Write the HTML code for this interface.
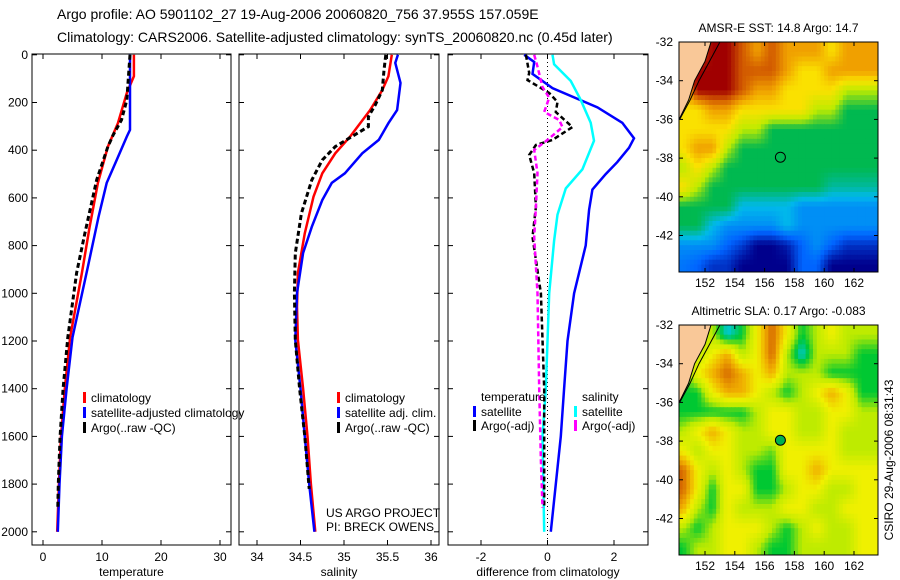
<!DOCTYPE html>
<html><head><meta charset="utf-8">
<style>
body{margin:0;background:#fff;}
svg{display:block;font-family:"Liberation Sans",sans-serif;}
text{font-size:12px;fill:#000;}
</style></head>
<body>
<svg id="fig" width="900" height="580" viewBox="0 0 900 580" xmlns="http://www.w3.org/2000/svg">
<rect width="900" height="580" fill="#fff"/>
<text x="57" y="19" style="font-size:14px">Argo profile: AO 5901102_27 19-Aug-2006 20060820_756 37.955S 157.059E</text>
<text x="57" y="42" style="font-size:14px">Climatology: CARS2006. Satellite-adjusted climatology: synTS_20060820.nc (0.45d later)</text>
</svg>
<script>
// ---- Temperature panel data ----
const tempClimDepth=[0,90,160,287,385,537,722,915,1185,1400,1600,1800,2000];
const tempClim=[15.4,15.4,14.2,12.7,11.0,9.3,7.9,6.6,4.6,3.7,3.05,2.7,2.4];
const tempSatDepth=[0,315,343,440,537,680,890,1185,1400,1600,1800,2000];
const tempSat=[14.75,14.75,14.2,12.5,10.8,9.4,7.6,5.0,4.0,3.2,2.8,2.5];
const tempArgoDepth=[0,190,273,336,385,524,748,915,1185,1400,1600,1800,1900];
const tempArgo=[14.75,14.2,13.3,11.9,11.0,9.1,7.1,5.7,4.2,3.4,2.9,2.6,2.5];
// ---- Salinity panel data ----
const salClimDepth=[0,90,148,232,343,413,497,595,748,915,1057,1196,1400,1600,1800,2000];
const salClim=[35.55,35.51,35.44,35.30,35.07,34.90,34.75,34.65,34.55,34.47,34.46,34.47,34.53,34.58,34.62,34.67];
const salSatDepth=[0,34,118,232,287,357,413,497,537,609,721,831,999,1196,1400,1600,1800,2000];
const salSat=[35.62,35.59,35.65,35.61,35.51,35.40,35.21,35.01,34.86,34.75,34.63,34.53,34.46,34.44,34.50,34.55,34.60,34.66];
const salArgoDepth=[0,64,148,210,259,301,343,385,441,525,665,832,999,1196,1400,1600,1820];
const salArgo=[35.48,35.46,35.44,35.36,35.28,35.28,35.09,34.90,34.75,34.63,34.51,34.44,34.43,34.44,34.49,34.55,34.60];
// ---- Difference panel data ----
const dTempSatDepth=[0,30,80,140,220,285,350,390,450,500,565,650,800,1000,1200,1400,1600,1800,2000];
const dTempSat=[-0.7,-0.4,-0.45,0.15,1.5,2.25,2.6,2.45,2.1,1.75,1.35,1.25,1.15,0.8,0.6,0.5,0.4,0.25,0.1];
const dSalSatDepth=[0,40,110,190,285,360,480,560,670,780,1000,1400,1600,2000];
const dSalSat=[0.15,0.2,0.7,1.0,1.3,1.4,1.05,0.55,0.3,0.2,0.05,-0.05,-0.15,-0.1];
const dTempArgoDepth=[0,76,106,135,160,198,240,303,357,378,420,496,638,764,1000,1400,1900];
const dTempArgo=[-0.65,-0.55,-0.6,-0.25,0.05,0.3,0.25,0.75,0.15,-0.35,-0.55,-0.4,-0.35,-0.45,-0.2,-0.1,-0.1];
const dSalArgoDepth=[0,50,135,180,240,273,303,357,399,496,638,764,1000,1400,1700,1900];
const dSalArgo=[-0.4,-0.3,-0.15,0.05,-0.1,0.35,0.45,0.0,-0.4,-0.3,-0.35,-0.4,-0.3,-0.25,-0.2,-0.15];
// tick labels
const depthTicks=[0,200,400,600,800,1000,1200,1400,1600,1800,2000];
const tempTicks=[0,10,20,30];
const salTicks=[34,34.5,35,35.5,36];
const diffTicks=[-2,0,2];
// ---- Map data (1-degree cells, lon 150.5..162.5, lat -32.5..-43.5) ----
const mapLons=[150,151,152,153,154,155,156,157,158,159,160,161,162];
const mapLats=[-32,-33,-34,-35,-36,-37,-38,-39,-40,-41,-42,-43];
const sstGrid=[
[7,7,8,8,7,6,7,6,6,6,5,6,6],
[8,8,8,8,7,7,7,6,5,5,6,6,6],
[5,8,8,8,7,6,6,5,5,5,5,4,4],
[5,5,6,6,5,5,5,5,5,4,4,3,3],
[5,5,5,5,4,4,3,3,3,3,3,3,3],
[5,6,6,4,3,3,3,3,3,3,3,3,3],
[4,5,4,3,3,3,3,3,3,3,3,3,3],
[5,4,3,3,3,3,3,3,3,3,2.5,2.5,2.5],
[3,3,3,3,2,2,2,2,1.5,1.5,1.5,1.5,1.5],
[3,3,2,1.5,1.5,1.5,1.5,2,1.5,1.5,1.5,1.5,1.5],
[1.5,1.5,1.5,1,0.6,0,0,0.3,1,1.5,1,0.5,0.5],
[1.2,1,0.5,0.5,0,0,0,0,1,1,0,0,0]];
const slaGrid=[
[4,4,4,2,3,5,7,5,3,4,5,4,4],
[4,4,5,6,4,5,7,4,2,4,4,4,3],
[3,5,6,7,6,5,6,4,4,4,3,3,3],
[3,3,5,6,6,5,4,3,4,5,6,5,3],
[3,3,3,3,3,4,5,5,4,4,5,5,4],
[4,5,6,5,4,4,5,5,4,4,5,4,4],
[5,4,5,5,4,4,3.5,5,5,5,5,4,4],
[7,5,4,5,4,3,3,5,5,6,5,5,5],
[7,5,3,5,5,3,3,4,5,5,4,4,5],
[6,4,3,5,4,4,4,5,5,4,4,5,5],
[4,3,4,5,5,5,4,3,4,5,4,4,5],
[3,4,4,5,5,4,3,3,4,4,4,4,5]];
const landLon=[150.2,152.4,152.0,151.3,150.9,150.2];
const landLat=[-32,-32,-33,-34,-35,-36.1];
const contourLon=[153.0,152.3,151.6,151.0,150.3];
const contourLat=[-32,-33,-34,-35,-36];
const mapLonTicks=[152,154,156,158,160,162];
const mapLatTicks=[-32,-34,-36,-38,-40,-42];
const argoLon=157.06, argoLat=-37.955;

const NS='http://www.w3.org/2000/svg';
const svg=document.getElementById('fig');
function mk(tag,attrs,parent){const e=document.createElementNS(NS,tag);for(const k in attrs)e.setAttribute(k,attrs[k]);(parent||svg).appendChild(e);return e;}

const Y0=54.8, YS=0.2385, TOP=54, BOT=545;
const yD=d=>Y0+d*YS;
function xScale(x0,x1,v0,v1){return v=>x0+(v-v0)*(x1-x0)/(v1-v0);}

function panel(name,left,right,xs,ticks,fmt,label,showDepth){
  const g=mk('g',{});
  
  
  const box=mk('rect',{x:left,y:TOP,width:right-left,height:BOT-TOP,fill:'none',stroke:'#000','stroke-width':1},g);
  
  
  ticks.forEach(t=>{const x=xs(t);
    mk('line',{x1:x,x2:x,y1:TOP,y2:TOP+5,stroke:'#000'},g);
    mk('line',{x1:x,x2:x,y1:BOT,y2:BOT-5,stroke:'#000'},g);
    const tx=mk('text',{x:x,y:BOT+16,'text-anchor':'middle'},g);tx.textContent=fmt(t);
    
    
  });
  depthTicks.forEach(d=>{const y=yD(d);
    mk('line',{x1:left,x2:left+5,y1:y,y2:y,stroke:'#000'},g);
    mk('line',{x1:right,x2:right-5,y1:y,y2:y,stroke:'#000'},g);
    if(showDepth){const tx=mk('text',{x:left-4,y:y+4,'text-anchor':'end'},g);tx.textContent=d;
      
      }
  });
  const lb=mk('text',{x:(left+right)/2,y:BOT+31,'text-anchor':'middle'},g);lb.textContent=label;
  
  
  return g;
}
function series(name,g,xs,depths,vals,color,dash,w){
  const pts=depths.map((d,i)=>xs(vals[i]).toFixed(1)+','+yD(d).toFixed(1)).join(' ');
  const p=mk('polyline',{points:pts,fill:'none',stroke:color,'stroke-width':w||2.5,'stroke-dasharray':dash||'none'},g);
  
  
}
function legend(g,items){
  items.forEach(it=>{
    const m=mk('rect',{x:it[0],y:it[1]-10,width:3,height:11,fill:it[3]},g);
    
    
    const t=mk('text',{x:it[0]+8,y:it[1]},g);t.textContent=it[2];
    
    
  });
}
// Temperature
const xT=xScale(43,220,0,30);
const gT=panel('temperature-panel',32,231,xT,tempTicks,v=>v,'temperature',true);
series('temp-climatology-line',gT,xT,tempClimDepth,tempClim,'#f00');
series('temp-satellite-line',gT,xT,tempSatDepth,tempSat,'#00f');
series('temp-argo-line',gT,xT,tempArgoDepth,tempArgo,'#000','5,3',3);
legend(gT,[[83,402,'climatology','#f00'],[83,417,'satellite-adjusted climatology','#00f'],[83,432,'Argo(..raw -QC)','#000']]);
// Salinity
const xS=xScale(257,431,34,36);
const gS=panel('salinity-panel',239,439,xS,salTicks,v=>v,'salinity',false);
series('sal-climatology-line',gS,xS,salClimDepth,salClim,'#f00');
series('sal-satellite-line',gS,xS,salSatDepth,salSat,'#00f');
series('sal-argo-line',gS,xS,salArgoDepth,salArgo,'#000','5,3',3);
legend(gS,[[337,402,'climatology','#f00'],[337,417,'satellite adj. clim.','#00f'],[337,432,'Argo(..raw -QC)','#000']]);
const c1=mk('text',{x:326,y:517});c1.textContent='US ARGO PROJECT';


const c2=mk('text',{x:326,y:531});c2.textContent='PI: BRECK OWENS';


// Difference
const xD=xScale(481,614,-2,2);
const gD=panel('difference-panel',448,648,xD,diffTicks,v=>v,'difference from climatology',false);
const zl=mk('line',{x1:xD(0),x2:xD(0),y1:TOP,y2:BOT,stroke:'#000','stroke-dasharray':'1,3'},gD);


series('diff-temp-satellite-line',gD,xD,dTempSatDepth,dTempSat,'#00f');
series('diff-sal-satellite-line',gD,xD,dSalSatDepth,dSalSat,'#0ff');
series('diff-temp-argo-line',gD,xD,dTempArgoDepth,dTempArgo,'#000','5,3',2.5);
series('diff-sal-argo-line',gD,xD,dSalArgoDepth,dSalArgo,'#f0f','5,3',2.5);
const lt=mk('text',{x:481,y:401},gD);lt.textContent='temperature';


const ls=mk('text',{x:582,y:401},gD);ls.textContent='salinity';


legend(gD,[[473,416,'satellite','#00f'],[473,430,'Argo(-adj)','#000'],[574,416,'satellite','#0ff'],[574,430,'Argo(-adj)','#f0f']]);

// Maps
const SST_STOPS=[[0,0,140],[0,100,255],[0,185,235],[0,185,80],[190,235,0],[250,225,0],[240,160,0],[210,90,0],[160,0,0]];
const SLA_STOPS=[[0,90,255],[0,150,255],[0,200,220],[0,200,50],[190,235,0],[240,240,0],[240,175,0],[215,105,0],[165,15,0]];
function mkCmap(st){return v=>{const s=Math.max(0,Math.min(v,8));const i=Math.min(Math.floor(s),7);const f=s-i;
  const a=st[i],b=st[i+1];return 'rgb('+a.map((c,k)=>Math.round(c+(b[k]-c)*f)).join(',')+')';};}
function sample(grid,lon,lat){
  const fc=lon-(mapLons[0]+0.5), fr=(mapLats[0]-0.5)-lat;
  const nr=grid.length,nc=grid[0].length;
  const c0=Math.max(0,Math.min(nc-2,Math.floor(fc))), r0=Math.max(0,Math.min(nr-2,Math.floor(fr)));
  const tx=Math.max(0,Math.min(1,fc-c0)), ty=Math.max(0,Math.min(1,fr-r0));
  const g=(r,c)=>grid[r][c];
  return (g(r0,c0)*(1-tx)+g(r0,c0+1)*tx)*(1-ty)+(g(r0+1,c0)*(1-tx)+g(r0+1,c0+1)*tx)*ty;
}
function drawMap(name,top,grid,cm,title,filled){
  const L=679,R=878,B=top+230;
  const xl=xScale(705,854,152,162), yl=xScale(top,top+193.5,-32,-42);
  const g=mk('g',{});
  
  
  const cid=name+'-clip';
  const cp=mk('clipPath',{id:cid},g);mk('rect',{x:L,y:top,width:R-L,height:B-top},cp);
  const cells=mk('g',{'clip-path':'url(#'+cid+')'},g);
  const step=0.25;
  for(let lat=-32;lat>-44;lat-=step){
    for(let lon=150.25;lon<163.75;lon+=step){
      const v=sample(grid,lon+step/2,lat-step/2);
      const x0=xl(lon),x1=xl(lon+step),y0=yl(lat),y1=yl(lat-step);
      const cell=mk('rect',{x:x0.toFixed(1),y:y0.toFixed(1),width:(x1-x0+0.6).toFixed(1),height:(y1-y0+0.6).toFixed(1),fill:cm(v)},cells);
      
      
    }
  }
  const land=mk('polygon',{points:landLon.map((lo,i)=>xl(lo).toFixed(1)+','+yl(landLat[i]).toFixed(1)).join(' '),fill:'#f9c898',stroke:'#000','stroke-width':1},cells);
  
  
  const coast=mk('polyline',{points:contourLon.map((lo,i)=>xl(lo).toFixed(1)+','+yl(contourLat[i]).toFixed(1)).join(' '),fill:'none',stroke:'#000','stroke-width':1},cells);
  
  
  mk('rect',{x:L,y:top,width:R-L,height:B-top,fill:'none',stroke:'#000'},g);
  mapLonTicks.forEach(t=>{const x=xl(t);mk('line',{x1:x,x2:x,y1:B,y2:B-4,stroke:'#000'},g);mk('line',{x1:x,x2:x,y1:top,y2:top+4,stroke:'#000'},g);
    const tx=mk('text',{x:x,y:B+15,'text-anchor':'middle'},g);tx.textContent=t;
    
    });
  mapLatTicks.forEach(t=>{const y=yl(t);mk('line',{x1:L,x2:L+4,y1:y,y2:y,stroke:'#000'},g);mk('line',{x1:R,x2:R-4,y1:y,y2:y,stroke:'#000'},g);
    const tx=mk('text',{x:L-6,y:y+4,'text-anchor':'end'},g);tx.textContent=t;
    
    });
  const ci=mk('circle',{cx:xl(argoLon),cy:yl(argoLat),r:5,fill:filled?'#00b050':'none',stroke:'#000'},g);
  
  
  const tt=mk('text',{x:(L+R)/2,y:top-10,'text-anchor':'middle'},g);tt.textContent=title;
  
  
}
drawMap('sst-map',42,sstGrid,mkCmap(SST_STOPS),'AMSR-E SST: 14.8 Argo: 14.7',false);
drawMap('sla-map',325,slaGrid,mkCmap(SLA_STOPS),'Altimetric SLA: 0.17 Argo: -0.083',true);
const st=mk('text',{x:0,y:0,'text-anchor':'middle',transform:'translate(893,460) rotate(-90)'});st.textContent='CSIRO 29-Aug-2006 08:31:43';


</script>
</body></html>
